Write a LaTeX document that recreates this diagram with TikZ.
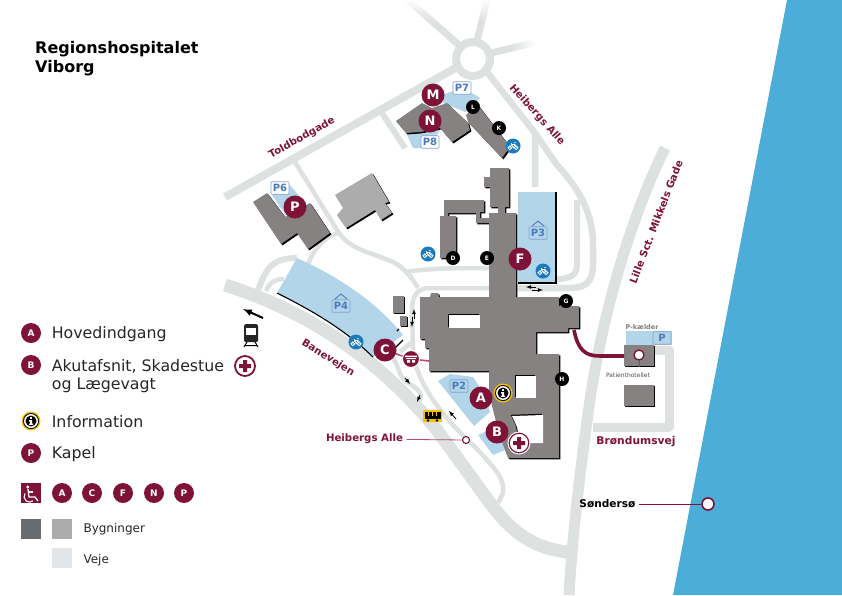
\documentclass[tikz,border=0pt]{standalone}
\usepackage{fontspec}
\setmainfont{DejaVu Sans}
\usetikzlibrary{positioning, calc, fadings}
\definecolor{lakeblue}{HTML}{4DADD9}
\definecolor{roadgrey}{HTML}{DDE1E0}
\definecolor{parkblue}{HTML}{B3D5E9}
\definecolor{bldgrey}{HTML}{868281}
\definecolor{bldlight}{HTML}{ACACAC}
\definecolor{bldslate}{HTML}{666C70}
\definecolor{vejgrey}{HTML}{E1E5E8}
\definecolor{maroon}{HTML}{7E1337}
\definecolor{rosered}{HTML}{B4506A}
\definecolor{bikeblue}{HTML}{1B7BBE}
\definecolor{signblue}{HTML}{4A7ABC}
\definecolor{busyellow}{HTML}{F2C200}
\tikzset{%
	road/.style={draw=roadgrey, line width=8pt, line join=round},
	lane/.style={draw=roadgrey, line width=4.5pt, line join=round},
	park/.style={fill=parkblue},
	edgeline/.style={draw=black, line width=1.1pt},
	letter/.style={circle, fill=maroon, text=white, inner sep=0pt, minimum size=23pt, font=\fontsize{13}{13}\selectfont\bfseries},
	smallletter/.style={circle, fill=maroon, text=white, inner sep=0pt, minimum size=20pt, font=\fontsize{9}{9}\selectfont\bfseries},
	door/.style={circle, fill=black, text=white, inner sep=0pt, minimum size=14pt, font=\fontsize{6}{6}\selectfont\bfseries},
	sign/.style={draw=signblue!70, rounded corners=1pt, line width=.7pt, text=signblue, inner sep=0pt, minimum width=18pt, minimum height=12.5pt, font=\fontsize{10}{10}\selectfont\bfseries},
	roadname/.style={text=maroon, font=\fontsize{10.2}{10.2}\selectfont\bfseries},
	legendtext/.style={anchor=west, text=black!85, font=\fontsize{15.8}{15.8}\selectfont},
	keytext/.style={anchor=west, text=black!85, font=\fontsize{12}{12}\selectfont},
	swatch/.style={minimum size=20pt, inner sep=0pt},
	ring/.style={circle, draw=maroon, fill=white, inner sep=0pt},
	tiny/.style={->, >=latex, black, line width=.8pt},
	bikeicon/.pic={
		\fill[bikeblue] (0,0) circle (7.5);
		\draw[white, line width=.8pt] (-3.2,1.8) circle (1.9) (3.2,1.8) circle (1.9);
		\draw[white, line width=.7pt] (-3.2,1.8) -- (-1.2,-1.6) -- (2,-1.6) -- (3.2,1.8) (-1.6,-3) -- (-1.2,-1.6) -- (.2,1.8) -- (2,-1.6) (1.2,-3.2) -- (2.8,-3.2);
	},
	crossicon/.pic={
		\fill[maroon] (-2,-6) rectangle (2,6) (-6,-2) rectangle (6,2);
	},
	infoicon/.pic={
		\fill[busyellow] (0,0) circle (9.5);
		\fill[black] (0,0) circle (8);
		\fill[white] (0,0) circle (7);
		\fill[black] (0,0) circle (5.5);
		\fill[white] (-.9,-3.8) rectangle (.9,-2.2) (-1.9,-.9) rectangle (1,.6) (-.9,.6) rectangle (1,3) (-2,2.6) rectangle (2.2,3.9);
	}
}
% building with its black edge on the lower right
\newcommand{\bldg}[2][bldgrey]{%
	\fill[black, shift={(1.4,1.4)}] #2;
	\fill[#1] #2;
}
% white hole with its black edge on the upper left
\newcommand{\yard}[1]{%
	\fill[black, shift={(-1.2,-1.2)}] #1;
	\fill[white] #1;
}

\begin{document}
\begin{tikzpicture}[x=1pt, y=-1pt, line cap=butt]
	\useasboundingbox (0,0) rectangle (842,595);

	% lake
	\fill[lakeblue] (787,0) -- (842,0) -- (842,595) -- (673,595) -- cycle;

	% roads
	\draw[road] (473,59) circle (17);
	\draw[road] (225,197) -- (459,66);
	\draw[road, line width=7pt] (408,0) -- (460,46);
	\draw[road, line width=7pt] (487,0) -- (477,41);
	\draw[road, line width=7pt] (533,43) -- (491,53);
	\fill[white, path fading=south] (400,-1) rectangle (500,22);
	\fill[white, path fading=west] (510,30) rectangle (536,60);
	\draw[road, line width=6.5pt] (487,72) -- (535,133) -- (535,187);
	\draw[road, line width=6pt] (380,110) -- (405,148);
	\draw[road, line width=6.5pt] (535,133) -- (557,165) .. controls (585,195) and (593,220) .. (593,245) -- (593,265) .. controls (593,282) and (585,288) .. (570,288) -- (517,288);
	\draw[road, line width=6pt] (577,200) -- (577,265) .. controls (577,275) and (570,279) .. (557,279);
	\draw[lane] (295,162) -- (337,230) .. controls (350,250) and (365,250) .. (393,262) .. controls (405,268) and (412,278) .. (418,288);
	\draw[lane] (338,233) .. controls (322,238) and (314,250) .. (308,264);
	\draw[lane] (405,272) .. controls (430,268) and (460,268) .. (490,268);
	\draw[lane] (490,288) -- (430,288) .. controls (418,288) and (412,295) .. (412,310) -- (413,350) .. controls (415,380) and (440,415) .. (475,447) .. controls (497,470) and (505,480) .. (503,493) -- (498,503);
	\draw[lane] (400,352) -- (412,342);
	\draw[road, line width=6pt] (257,293) .. controls (266,268) and (272,258) .. (297,258);
	\draw[lane] (266,291) .. controls (270,282) and (275,279) .. (284,279);
	\draw[road, line width=13pt] (225,285) .. controls (310,312) and (380,360) .. (437,430) -- (493,507) .. controls (515,535) and (535,548) .. (567,552);
	\draw[lane] (393,358) .. controls (400,368) and (398,376) .. (407,382) .. controls (420,390) and (425,395) .. (417,404);
	\draw[road, line width=11pt] (665,148) .. controls (625,230) and (600,330) .. (590,400) .. controls (580,470) and (572,540) .. (569,595);
	\draw[road, line width=9pt] (593,427) -- (669,427) -- (669,350) -- (654,350);

	% parking
	\fill[park] (297,258) .. controls (335,275) and (375,300) .. (403,335) -- (373,357) .. controls (345,330) and (315,312) .. (277,293) -- cycle;
	\fill[park] (518,192) rectangle (556,283);
	\fill[park] (438,381) -- (450,374) -- (473,377) -- (485,395) -- (490,412) -- (474,426) -- cycle;
	\fill[park] (478,435) -- (497,427) -- (505,450) -- (493,455) -- cycle;
	\fill[park] (443,95) .. controls (455,88) and (470,90) .. (480,98) -- (465,112) -- (453,107) -- (443,103) -- cycle;
	\fill[park] (407,135) -- (418,123) -- (440,130) -- (432,143) .. controls (425,148) and (415,149) .. (413,148) -- cycle;
	\fill[park] (272,195) -- (290,185) -- (300,197) -- (300,213) -- (287,217) -- cycle;
	\fill[park] (626,331) rectangle (672,345);
	\draw[edgeline] (277,293) .. controls (315,312) and (345,330) .. (373,357);
	\draw[edgeline] (395,348) -- (403,340);
	\draw[edgeline] (397,331) -- (399,329);
	\draw[edgeline] (556,192) -- (556,283) -- (518,283);

	% buildings
	\bldg{(490,168) -- (509,168) -- (509,207) -- (505,207) -- (505,213) -- (516,213) -- (516,297) -- (559,297) -- (559,306) -- (579,306) -- (579,328) -- (568,328) -- (568,332) -- (536,332) -- (536,354) -- (559,354) -- (559,458) -- (508,458) -- (500,437) -- (493,410) -- (489,393) -- (489,371) -- (429,371) -- (429,348) -- (425,348) -- (425,339) -- (420,339) -- (420,297) -- (430,297) -- (431,293) -- (438,293) -- (439,297) -- (489,297) -- (489,223) -- (476,223) -- (476,213) -- (448,213) -- (448,216) -- (456,216) -- (456,258) -- (440,258) -- (440,216) -- (444,216) -- (444,200) -- (484,200) -- (484,212) -- (480,212) -- (480,218) -- (489,218) -- (489,213) -- (498,213) -- (498,207) -- (490,207) -- (490,187) -- (484,187) -- (484,177) -- (490,177) -- cycle}
	\yard{(449,315) rectangle (480,328)}
	\yard{(516,376) rectangle (536,398)}
	\yard{(512,416) -- (543,415) -- (543,443) -- (520,443) -- (517,427) -- cycle}
	\bldg{(396,121) -- (422,103) -- (432,108) -- (447,103) -- (468,123) -- (470,130) -- (452,142) -- (440,128) -- (420,132) -- (406,133) -- cycle}
	\bldg{(468,122) -- (466,115) -- (478,105) -- (510,147) -- (502,158) -- cycle}
	\bldg{(253,202) -- (267,193) -- (285,217) -- (310,203) -- (330,233) -- (308,249) -- (297,233) -- (281,244) -- cycle}
	\bldg[bldlight]{(335,195) -- (372,173) -- (389,202) -- (385,203) -- (392,213) -- (381,220) -- (375,210) -- (346,228) -- (337,215) -- (343,208) -- cycle}
	\bldg{(624,345) rectangle (654,366)}
	\bldg{(624,385) rectangle (654,406)}
	\bldg{(393,296) rectangle (404,313)}
	\bldg{(400,316) rectangle (407,326)}

	% walkway to the hotel
	\draw[maroon, line width=3.6pt] (574,330) .. controls (578,350) and (585,356) .. (600,356) -- (624,356);

	% road names
	\node[roadname, rotate=29] (toldbodgade) at (302,138) {Toldbodgade};
	\node[roadname, rotate=-48] (heibergsnord) at (537,115) {Heibergs Alle};
	\node[roadname, rotate=69] (mikkelsgade) at (656,222) {Lille Sct. Mikkels Gade};
	\node[roadname, rotate=-32] (banevejen) at (328,358) {Banevejen};
	\node[roadname, anchor=east] (heibergssyd) at (406.5,439) {Heibergs Alle};
	\node[roadname, font=\fontsize{10.7}{10.7}\selectfont\bfseries] (brondumsvej) at (636,442) {Brøndumsvej};
	\node[anchor=east, font=\fontsize{10.6}{10.6}\selectfont\bfseries] (sondersoe) at (639,504) {Søndersø};
	\node[text=black!70, font=\fontsize{6}{6}\selectfont] (hotellabel) at (628,375) {Patienthotellet};
	\node[text=black!50, font=\fontsize{6.5}{6.5}\selectfont\bfseries] (kaelderlabel) at (642,327) {P-kælder};

	% leader lines
	\node[ring, line width=1.1pt, minimum size=7pt] (heibergspot) at (466,440) {};
	\draw[rosered, line width=.8pt] (heibergssyd) -- (heibergspot);
	\node[ring, line width=1.6pt, minimum size=12pt] (sopot) at (708,504) {};
	\draw[maroon, line width=.8pt] (sondersoe) -- (sopot);
	\node[ring, line width=1.3pt, minimum size=10pt] (hotelpot) at (639,355) {};
	\coordinate (hotelfoot) at (639,367);
	\draw[maroon!80, line width=1pt] (hotelpot) -- (hotelfoot);

	% parking signs
	\node[sign, fill=white] (p7) at (462,88) {P7};
	\node[sign, fill=white] (p8) at (430,142) {P8};
	\node[sign, fill=white] (p6) at (280,188) {P6};
	\node[sign] (p4) at (341,306) {P4};
	\node[sign] (p3) at (538,233) {P3};
	\node[sign] (p2) at (459,386) {P2};
	\node[sign] (pk) at (662,338) {P};
	\draw[signblue, line width=.9pt] (335,299) -- (341,294) -- (347,299);
	\draw[signblue, line width=.9pt] (532,226) -- (538,221) -- (544,226);

	% arrows
	\draw[tiny] (414,319) -- (414,309);
	\draw[tiny] (412,317) -- (412,327);
	\draw[tiny] (405,378) -- (410,384);
	\draw[tiny] (420,395) -- (417,402);
	\draw[tiny] (456,419) -- (449,411);
	\draw[tiny] (536,287) -- (526,287);
	\draw[tiny] (532,290) -- (543,290);
	\draw[->, >=latex, black, line width=2pt] (263,318) -- (243,309);

	% train
	\fill[black!85, rounded corners=1.5pt] (244,324) rectangle (258,342);
	\fill[white] (246,328) rectangle (256,335);
	\draw[black, line width=1pt] (247,342) -- (244,347) (255,342) -- (258,347) (245,345.5) -- (257,345.5);

	% bus
	\fill[busyellow, rounded corners=1pt] (423,410) rectangle (442,422);
	\fill[black] (424.5,412) rectangle (440.5,419);
	\fill[black] (428,420.5) circle (1.3) (437,420.5) circle (1.3);
	\draw[busyellow, line width=.5pt] (428,412) -- (428,416) (432,412) -- (432,416) (436,412) -- (436,416);

	% bikes
	\pic at (513,146) {bikeicon};
	\pic at (428,254) {bikeicon};
	\pic at (543,271) {bikeicon};
	\pic at (356,342) {bikeicon};

	% entrances
	\node[letter] (m) at (433,95) {M};
	\node[letter] (n) at (430,121) {N};
	\node[letter] (p) at (295,207) {P};
	\node[letter] (f) at (520,259) {F};
	\node[letter] (a) at (481,398) {A};
	\node[letter] (b) at (497,432) {B};
	\node[letter] (c) at (385,350) {C};
	\node[door] (l) at (473,107) {L};
	\node[door] (k) at (499,128) {K};
	\node[door] (d) at (453,258) {D};
	\node[door] (e) at (487,258) {E};
	\node[door] (g) at (566,301) {G};
	\node[door] (h) at (562,379) {H};

	% bus stop and cross
	\coordinate (wardfoot) at (429,361);
	\draw[rosered, line width=1.6pt] (c) -- (411,359) -- (wardfoot);
	\node[circle, fill=maroon, draw=white, line width=1pt, minimum size=17pt, inner sep=0pt] (stop) at (411,359) {};
	\fill[white] (405,355.5) rectangle (417,357) (406,358) rectangle (416,359) (407,360) rectangle (410,362.5) (412,360) rectangle (415,362.5);
	\node[ring, line width=1.6pt, minimum size=20pt] (cross) at (519,443) {};
	\draw[white, line width=1pt] (519,443) circle (11);
	\pic at (519,443) {crossicon};
	\pic at (503,393) {infoicon};

	% title
	\node[anchor=west, font=\fontsize{16}{16}\selectfont\bfseries] (title) at (31.7,49.5) {Regionshospitalet};
	\node[anchor=west, font=\fontsize{16}{16}\selectfont\bfseries] (subtitle) at (31.7,68) {Viborg};

	% legend
	\node[smallletter] (ka) at (31,333) {A};
	\node[smallletter] (kb) at (31,365) {B};
	\node[smallletter] (kp) at (31,453) {P};
	\node[legendtext] (hoved) at (48.3,334) {Hovedindgang};
	\node[legendtext] (akut) at (48.3,366) {Akutafsnit, Skadestue};
	\node[legendtext] (vagt) at (48.3,385) {og Lægevagt};
	\node[legendtext] (info) at (48.3,422) {Information};
	\node[legendtext] (kapel) at (48.3,454) {Kapel};
	\pic at (31,421) {infoicon};
	\node[ring, line width=1.8pt, minimum size=20pt] (kcross) at (245,366) {};
	\pic at (245,366) {crossicon};

	% wheelchair row
	\fill[maroon] (21,483) rectangle (41,503);
	\fill[white] (27.8,487) circle (1.6);
	\draw[white, line width=1.3pt] (28,489) -- (29,497) -- (35,497) -- (38,501);
	\draw[white, line width=1.1pt] (29,492) -- (33,492);
	\draw[white, line width=1.1pt] (25,493.4) arc[start angle=215, end angle=50, radius=5.5];
	\node[smallletter] (wa) at (62,493) {A};
	\node[smallletter] (wc) at (92,493) {C};
	\node[smallletter] (wf) at (123,493) {F};
	\node[smallletter] (wn) at (154,493) {N};
	\node[smallletter] (wp) at (184,493) {P};

	\node[swatch, fill=bldslate] (kdark) at (31,529) {};
	\node[swatch, fill=bldlight] (klight) at (62,529) {};
	\node[swatch, fill=vejgrey] (kroad) at (62,558) {};
	\node[keytext] (bygninger) at (80,529) {Bygninger};
	\node[keytext] (veje) at (80,560) {Veje};
\end{tikzpicture}
\end{document}
